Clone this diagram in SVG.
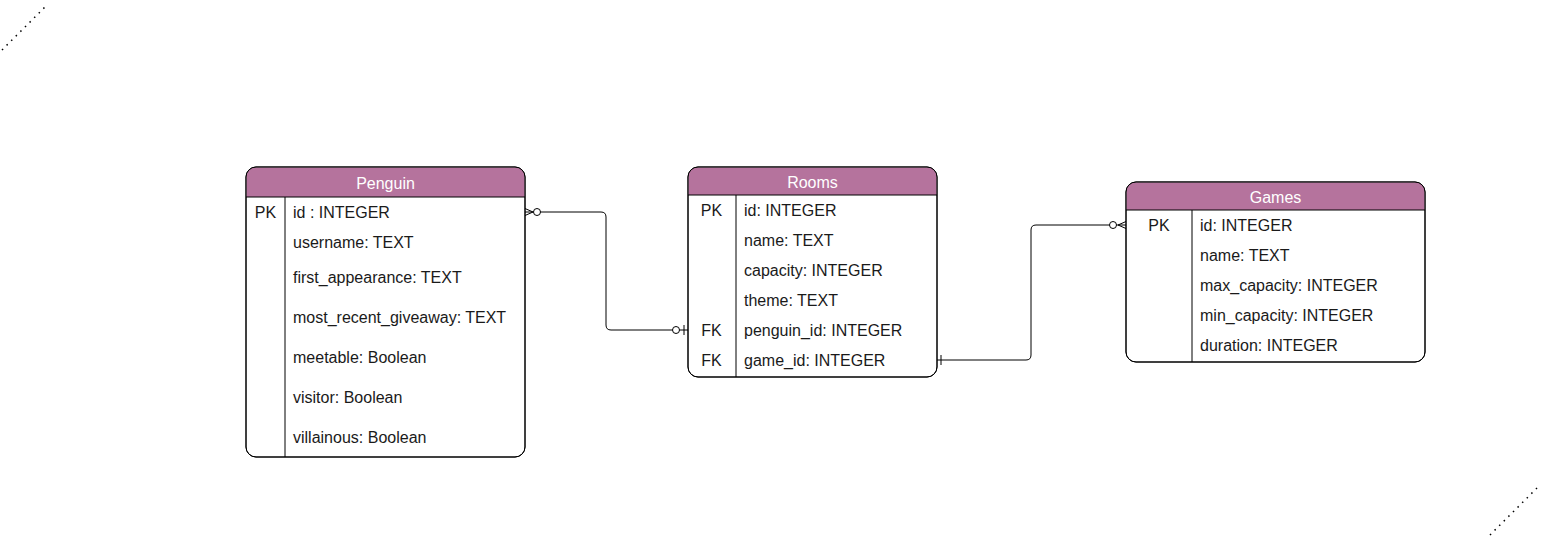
<svg xmlns="http://www.w3.org/2000/svg" width="1541" height="538" viewBox="0 0 1541 538">
<style>
.box{fill:#ffffff;stroke:#000000;stroke-width:1}
.hdr{fill:#B5739D;stroke:none}
.ln{stroke:#000000;stroke-width:1;fill:none}
.ht{font-family:"Liberation Sans",Arial,sans-serif;font-size:16px;fill:#ffffff;text-anchor:middle}
.t{font-family:"Liberation Sans",Arial,sans-serif;font-size:16px;fill:#1a1a1a}
.k{font-family:"Liberation Sans",Arial,sans-serif;font-size:16px;fill:#1a1a1a;text-anchor:middle}
.dot{stroke:#000000;stroke-width:1.5;stroke-dasharray:1.5 5;fill:none}
.mk{stroke:#000000;stroke-width:1;fill:#ffffff}
</style>
<rect width="1541" height="538" fill="#ffffff"/>
<line class="dot" x1="2" y1="50" x2="48" y2="4"/>
<line class="dot" x1="1490" y1="535" x2="1537" y2="488"/>

<g id="connectors">
  <path class="ln" d="M525 212 H601 Q606 212 606 217 V325 Q606 330 611 330 H688"/>
  <path class="ln" d="M525 208.5 L533 212 L525 215.5"/>
  <circle class="mk" cx="537" cy="212" r="3.5"/>
  <circle class="mk" cx="676" cy="330" r="3.5"/>
  <line class="ln" x1="684" y1="325" x2="684" y2="335"/>

  <path class="ln" d="M937 360 H1026 Q1031 360 1031 355 V230 Q1031 225 1036 225 H1126"/>
  <line class="ln" x1="941" y1="355" x2="941" y2="365"/>
  <circle class="mk" cx="1113" cy="225" r="3.5"/>
  <path class="ln" d="M1126 221.5 L1118 225 L1126 228.5"/>
</g>

<g id="penguin">
  <rect class="box" x="246" y="167" width="279" height="290" rx="10"/>
  <path class="hdr" d="M246.5 197 V177 Q246.5 167.5 256 167.5 H515 Q524.5 167.5 524.5 177 V197 Z"/>
  <rect x="246" y="167" width="279" height="290" rx="10" fill="none" stroke="#000"/>
  <line class="ln" x1="246" y1="197" x2="525" y2="197"/>
  <line class="ln" x1="285" y1="197" x2="285" y2="457"/>
  <text class="ht" x="385.5" y="189">Penguin</text>
  <text class="k" x="265.5" y="218">PK</text>
  <text class="t" x="293" y="218">id : INTEGER</text>
  <text class="t" x="293" y="248">username: TEXT</text>
  <text class="t" x="293" y="283">first_appearance: TEXT</text>
  <text class="t" x="293" y="323">most_recent_giveaway: TEXT</text>
  <text class="t" x="293" y="363">meetable: Boolean</text>
  <text class="t" x="293" y="403">visitor: Boolean</text>
  <text class="t" x="293" y="443">villainous: Boolean</text>
</g>

<g id="rooms">
  <rect class="box" x="688" y="167" width="249" height="210" rx="10"/>
  <path class="hdr" d="M688.5 195 V177 Q688.5 167.5 698 167.5 H927 Q936.5 167.5 936.5 177 V195 Z"/>
  <rect x="688" y="167" width="249" height="210" rx="10" fill="none" stroke="#000"/>
  <line class="ln" x1="688" y1="195" x2="937" y2="195"/>
  <line class="ln" x1="736" y1="195" x2="736" y2="377"/>
  <text class="ht" x="812.5" y="188">Rooms</text>
  <text class="k" x="711.5" y="216">PK</text>
  <text class="t" x="744" y="216">id: INTEGER</text>
  <text class="t" x="744" y="246">name: TEXT</text>
  <text class="t" x="744" y="276">capacity: INTEGER</text>
  <text class="t" x="744" y="306">theme: TEXT</text>
  <text class="k" x="711.5" y="336">FK</text>
  <text class="t" x="744" y="336">penguin_id: INTEGER</text>
  <text class="k" x="711.5" y="366">FK</text>
  <text class="t" x="744" y="366">game_id: INTEGER</text>
</g>

<g id="games">
  <rect class="box" x="1126" y="182" width="299" height="180" rx="10"/>
  <path class="hdr" d="M1126.5 210 V192 Q1126.5 182.5 1136 182.5 H1415 Q1424.5 182.5 1424.5 192 V210 Z"/>
  <rect x="1126" y="182" width="299" height="180" rx="10" fill="none" stroke="#000"/>
  <line class="ln" x1="1126" y1="210" x2="1425" y2="210"/>
  <line class="ln" x1="1192" y1="210" x2="1192" y2="362"/>
  <text class="ht" x="1275.5" y="203">Games</text>
  <text class="k" x="1159" y="231">PK</text>
  <text class="t" x="1200" y="231">id: INTEGER</text>
  <text class="t" x="1200" y="261">name: TEXT</text>
  <text class="t" x="1200" y="291">max_capacity: INTEGER</text>
  <text class="t" x="1200" y="321">min_capacity: INTEGER</text>
  <text class="t" x="1200" y="351">duration: INTEGER</text>
</g>
</svg>
